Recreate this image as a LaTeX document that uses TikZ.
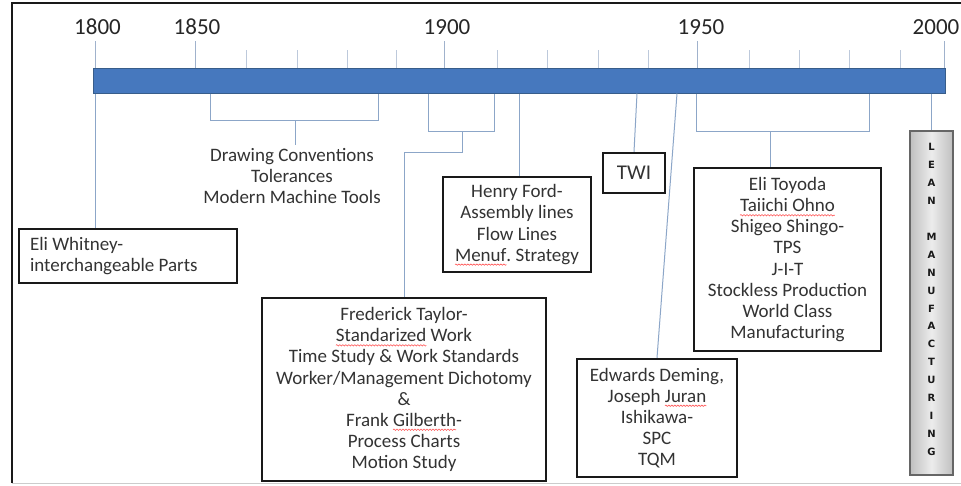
\documentclass[tikz,border=0pt]{standalone}
\usepackage{fontspec}
\setmainfont{Carlito}
\newfontfamily\leanfont{DejaVu Sans}
\usetikzlibrary{decorations.pathmorphing}
\frenchspacing
% red wavy mark under flagged words
\newsavebox\spellbox
\newlength\spellwd
\newcommand\spellerr[1]{\sbox\spellbox{#1}\setlength\spellwd{\wd\spellbox}%
  \leavevmode\rlap{\tikz[x=1pt,y=1pt,baseline=0pt,overlay]\draw[red!65,line width=0.6pt,decorate,decoration={snake,amplitude=0.7pt,segment length=3pt}] (0pt,-3.5pt) -- (\spellwd,-3.5pt);}\usebox\spellbox}
\definecolor{barblue}{RGB}{70,120,190}
\definecolor{barline}{RGB}{56,93,138}
\definecolor{linkblue}{RGB}{140,166,200}
\definecolor{tickgray}{RGB}{160,178,204}
\begin{document}
\begin{tikzpicture}[x=1pt,y=-1pt,
  txt/.style={font=\fontsize{19}{21.1}\selectfont, text=black!80, align=center},
  box/.style={txt, draw=black!90, line width=2.4pt, fill=white, inner sep=0pt},
  yearlbl/.style={font=\fontsize{23}{25}\selectfont, text=black!85, anchor=base, inner sep=0pt},
  link/.style={draw=linkblue, line width=1pt},
  majortick/.style={draw=tickgray, line width=1pt},
  minortick/.style={draw=tickgray!70, line width=0.8pt},
  leanbox/.style={draw=gray!80!black, line width=1.2pt, left color=gray!50, right color=gray!50, middle color=gray!15, inner sep=0pt},
  leanletters/.style={font=\leanfont\bfseries\fontsize{10}{17.9}\selectfont, text=black!90, align=center, inner sep=0pt}]

% page and frame
\useasboundingbox (0,0) rectangle (961,485);
\fill[white] (0,0) rectangle (961,485);
\draw[black!90, line width=2.6pt] (12,483) -- (12,3) -- (961,3);
\draw[gray!40, line width=1pt] (12,483) -- (961,483);

% time axis
\node[fill=barblue, draw=barline, line width=1pt, minimum width=852pt, minimum height=25pt, inner sep=0pt] (bar) at (519,80.5) {};
\foreach \x in {95,195,444,697,944} {
  \coordinate (t) at (\x,41);
  \draw[majortick] (t) -- (t |- bar.north);
}
\foreach \x in {246,297,347,396,497,547,598,648,749,799,849,900} {
  \coordinate (t) at (\x,50);
  \draw[minortick] (t) -- (t |- bar.north);
}
\node[yearlbl] (y1800) at (97.5,34) {1800};
\node[yearlbl] (y1850) at (197,34) {1850};
\node[yearlbl] (y1900) at (447,34) {1900};
\node[yearlbl] (y1950) at (701,34) {1950};
\node[yearlbl] (y2000) at (936,34) {2000};

% events
\node[box, minimum width=218pt, minimum height=54pt, text width=196pt, align=left,
      execute at begin node={\spaceskip=4.3pt\relax\xspaceskip=4.3pt\relax}] (whitney) at (128,256)
  {Eli Whitney-\\interchangeable Parts};
\node[txt] (drawing) at (292,176)
  {Drawing Conventions\\Tolerances\\Modern Machine Tools};
\node[box, minimum width=148pt, minimum height=95pt] (ford) at (517,224.5)
  {Henry Ford-\\Assembly lines\\Flow Lines\\\spellerr{Menuf}. Strategy};
\node[box, minimum width=62pt, minimum height=40pt, font=\fontsize{21}{23}\selectfont] (twi) at (634,173) {TWI};
\node[box, minimum width=187pt, minimum height=183pt] (toyoda) at (787.5,259.5)
  {Eli Toyoda\\\spellerr{Taiichi Ohno}\\Shigeo Shingo-\\TPS\\J-I-T\\Stockless Production\\World Class\\Manufacturing};
\node[box, minimum width=284pt, minimum height=183pt] (taylor) at (404,389.5)
  {Frederick Taylor-\\\spellerr{Standarized} Work\\Time Study \& Work Standards\\Worker/Management Dichotomy\\\&\\Frank \spellerr{Gilberth}-\\Process Charts\\Motion Study};
\node[box, minimum width=160pt, minimum height=118pt] (deming) at (657,418)
  {Edwards Deming,\\Joseph \spellerr{Juran}\\Ishikawa-\\SPC\\TQM};
\node[leanbox, minimum width=43pt, minimum height=344pt] (lean) at (931.5,303) {};
\node[leanletters] (leanword) at (931.5,299.5)
  {L\\E\\A\\N\\[17.9pt]M\\A\\N\\U\\F\\A\\C\\T\\U\\R\\I\\N\\G};

% connector positions
\coordinate (cW) at (95,0);
\coordinate (b1l) at (210,0);
\coordinate (b1r) at (378,0);
\coordinate (b1m) at (295,120);
\coordinate (b2l) at (428,0);
\coordinate (b2r) at (494,0);
\coordinate (b2m) at (462,131);
\coordinate (b2k) at (404,152);
\coordinate (cF) at (519,0);
\coordinate (cT1) at (637,0);
\coordinate (cT2) at (634,0);
\coordinate (cD) at (677,0);
\coordinate (b3l) at (696,0);
\coordinate (b3r) at (869,0);
\coordinate (b3m) at (770,131);

% connectors
\draw[link] (bar.south -| cW) -- (whitney.north -| cW);
\draw[link] (bar.south -| b1l) |- (b1r |- b1m) -- (bar.south -| b1r);
\draw[link] (b1m) -- (b1m |- drawing.north);
\draw[link] (bar.south -| b2l) |- (b2r |- b2m) -- (bar.south -| b2r);
\draw[link] (b2m) |- (b2k) -- (b2k |- taylor.north);
\draw[link] (bar.south -| cF) -- (ford.north -| cF);
\draw[link] (bar.south -| cT1) -- (twi.north -| cT2);
\draw[link] (bar.south -| cD) -- (deming.north);
\draw[link] (bar.south -| b3l) |- (b3r |- b3m) -- (bar.south -| b3r);
\draw[link] (b3m) -- (b3m |- toyoda.north);
\draw[link] (bar.south -| lean.north) -- (lean.north);
\end{tikzpicture}
\end{document}
